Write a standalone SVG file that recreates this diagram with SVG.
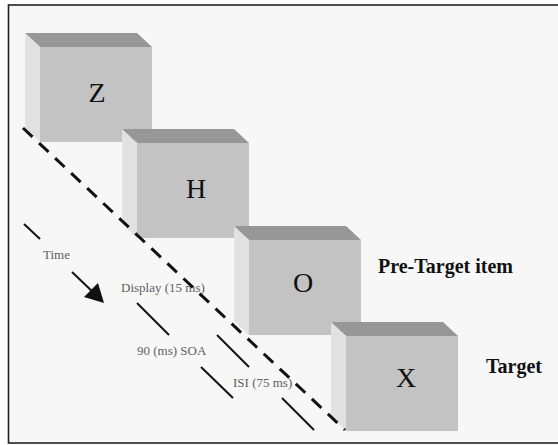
<svg xmlns="http://www.w3.org/2000/svg" width="558" height="445" viewBox="0 0 558 445">
  <defs>
    <style>
      .front { fill: #c3c3c3; }
      .top { fill: #979797; }
      .side { fill: #e1e1e1; }
      .letter { font-family: "Liberation Serif", "Times New Roman", serif; font-size: 28px; fill: #111; text-anchor: middle; }
      .label { font-family: "Liberation Serif", "Times New Roman", serif; font-size: 20px; font-weight: bold; fill: #111; }
      .note { font-family: "Liberation Serif", "Times New Roman", serif; font-size: 13px; fill: #606060; }
      .tick { stroke: #111; stroke-width: 2; fill: none; }
      .track { stroke: #111; stroke-width: 3; stroke-dasharray: 13 9; fill: none; }
    </style>
    <!-- one stimulus card: front face 112x95 with a 15px receding depth -->
    <g id="card">
      <polygon class="top" points="-15,-14 97,-14 112,0 0,0"/>
      <polygon class="side" points="-15,-14 0,0 0,95 -15,81"/>
      <rect class="front" x="0" y="0" width="112" height="95"/>
    </g>
  </defs>

  <!-- frame -->
  <rect x="0" y="0" width="558" height="445" fill="#ffffff"/>
  <rect x="8.5" y="5" width="560" height="438" fill="#f7f7f7" stroke="#222" stroke-width="1.6"/>

  <!-- stimulus sequence -->
  <g id="card-z">
    <use href="#card" x="40" y="47"/>
    <text class="letter" x="97" y="102">Z</text>
  </g>
  <g id="card-h">
    <use href="#card" x="137" y="143"/>
    <text class="letter" x="196" y="198">H</text>
  </g>
  <g id="card-o">
    <use href="#card" x="249" y="240"/>
    <text class="letter" x="303" y="292">O</text>
  </g>
  <g id="card-x">
    <use href="#card" x="346" y="336"/>
    <text class="letter" x="406" y="387">X</text>
  </g>

  <!-- labels -->
  <g id="labels">
    <text class="label" x="378" y="273">Pre-Target item</text>
    <text class="label" x="486" y="373">Target</text>
    <text class="note" x="43" y="259">Time</text>
    <text class="note" x="121" y="292">Display (15 ms)</text>
    <text class="note" x="137" y="355">90 (ms) SOA</text>
    <text class="note" x="233" y="387">ISI (75 ms)</text>
  </g>

  <!-- timing connectors -->
  <g id="connectors">
    <line class="tick" x1="24" y1="224" x2="40" y2="239"/>
    <line class="tick" x1="72" y1="272" x2="95" y2="294"/>
    <polygon points="104,303 84,297 98,283" fill="#111"/>
    <line class="tick" x1="137" y1="303" x2="169" y2="335"/>
    <line class="tick" x1="217" y1="335" x2="249" y2="367"/>
    <line class="tick" x1="201" y1="367" x2="233" y2="398"/>
    <line class="tick" x1="282" y1="398" x2="314" y2="430"/>
    <line class="track" x1="23" y1="128" x2="345" y2="430"/>
  </g>
</svg>
